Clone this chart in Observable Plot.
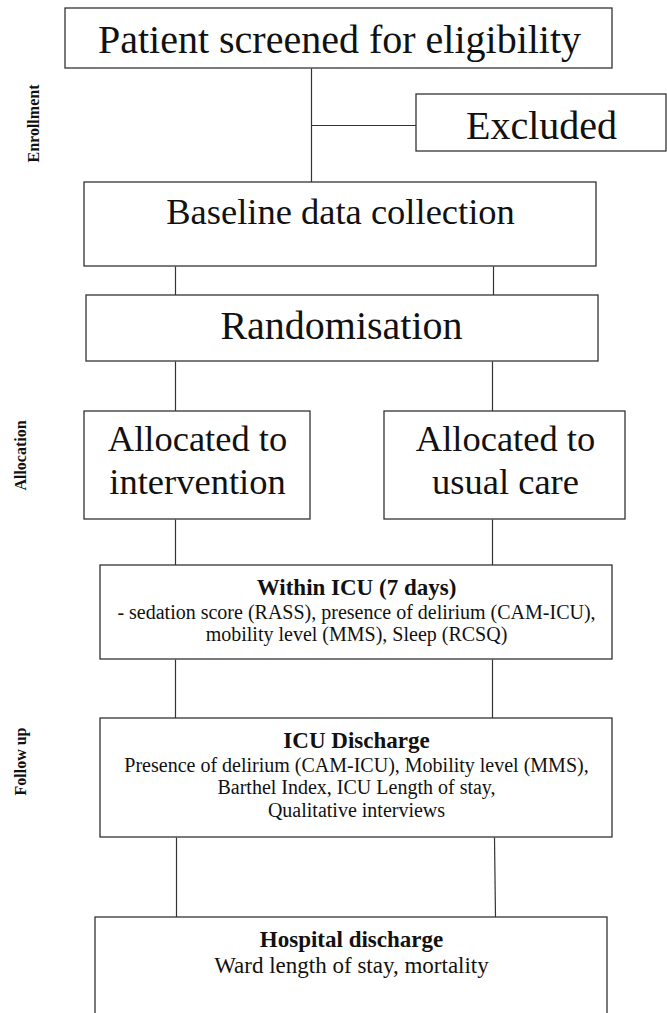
<!DOCTYPE html>
<html>
<head>
<meta charset="utf-8">
<script src="https://cdn.jsdelivr.net/npm/d3@7"></script>
<script src="https://cdn.jsdelivr.net/npm/@observablehq/plot@0.6"></script>
<style>
  html, body { margin: 0; padding: 0; background: #fff; overflow: hidden; }
  #chart svg { display: block; }
</style>
</head>
<body>
<div id="chart"></div>
<script>
// ---- Diagram data (page pixel coordinates, y grows downward) ----
const boxIds = ["screen", "excluded", "baseline", "random", "interv", "usual", "icu", "icuDis", "hosp"];
const boxX1 = [65, 416, 84, 86, 84, 384, 100, 100, 95];
const boxX2 = [612, 666, 596, 598, 310, 625, 612, 612, 607];
const boxY1 = [8, 94, 182, 295, 411, 411, 565, 718, 917];
const boxY2 = [68, 151, 266, 361, 519, 519, 659, 837, 1040];

// connectors: [x1, y1] -> [x2, y2]
const linkX1 = [311, 311, 175, 493, 175, 492, 175, 492, 175, 492, 176, 494];
const linkY1 = [68, 125, 266, 266, 361, 361, 519, 519, 659, 659, 837, 837];
const linkX2 = [311, 416, 175, 493, 175, 492, 175, 492, 175, 492, 176, 495];
const linkY2 = [182, 125, 295, 295, 411, 411, 565, 565, 718, 718, 917, 917];

// text lines (baseline positions)
const lineTexts = [
  "Patient screened for eligibility",
  "Excluded",
  "Baseline data collection",
  "Randomisation",
  "Allocated to", "intervention",
  "Allocated to", "usual care",
  "Within ICU (7 days)",
  "- sedation score (RASS), presence of delirium (CAM-ICU),",
  "mobility level (MMS), Sleep (RCSQ)",
  "ICU Discharge",
  "Presence of delirium (CAM-ICU), Mobility level (MMS),",
  "Barthel Index, ICU Length of stay,",
  "Qualitative interviews",
  "Hospital discharge",
  "Ward length of stay, mortality"
];
const lineX = [339, 541, 340, 341, 197, 197, 505, 505, 356, 356, 356, 356, 356, 356, 356, 351, 351];
const lineY = [52, 138, 223, 338, 450, 493, 450, 493, 594, 618, 640, 747, 771, 793, 816, 946, 972];
const lineRole = ["big", "big", "mid", "big", "mid", "mid", "mid", "mid",
  "title", "body", "body", "title", "body", "body", "body", "title", "body2"];

// phase labels on the left (rotated, read bottom to top)
const phaseTexts = ["Enrollment", "Allocation", "Follow up"];
const phaseX = [38, 25, 25];
const phaseY = [123, 455, 761];

// ---- styles ----
const roleStyle = {
  big:   {size: 40, weight: "normal"},
  mid:   {size: 36.5, weight: "normal"},
  title: {size: 23, weight: "bold"},
  body:  {size: 20, weight: "normal"},
  body2: {size: 23, weight: "normal"}
};
const phaseSpacing = [0.4, 1.8, 1.6];
const serif = "'Liberation Serif', 'Times New Roman', serif";
const ink = "#333";

const boxes = boxIds.map((id, i) => ({id, x1: boxX1[i], x2: boxX2[i], y1: boxY1[i], y2: boxY2[i]}));
const links = linkX1.map((d, i) => ({x1: linkX1[i], y1: linkY1[i], x2: linkX2[i], y2: linkY2[i]}));
const lines = lineTexts.map((t, i) => ({text: t, x: lineX[i], y: lineY[i], role: lineRole[i]}));
const phases = phaseTexts.map((t, i) => ({text: t, x: phaseX[i], y: phaseY[i]}));

const textMarks = Object.entries(roleStyle).map(([role, st]) =>
  Plot.text(lines.filter(d => d.role === role), {
    x: "x", y: "y", text: "text",
    fontSize: st.size, fontWeight: st.weight,
    fontFamily: serif, fill: "#111",
    textAnchor: "middle", lineAnchor: "bottom"
  })
);

const plot = Plot.plot({
  width: 667,
  height: 1013,
  margin: 0,
  style: {background: "#fff", fontFamily: serif},
  x: {domain: [0, 667], range: [0, 667], axis: null},
  y: {domain: [0, 1013], range: [0, 1013], axis: null},
  marks: [
    Plot.link(links, {x1: "x1", y1: "y1", x2: "x2", y2: "y2", stroke: ink, strokeWidth: 1.2}),
    Plot.rect(boxes, {x1: "x1", x2: "x2", y1: "y1", y2: "y2", fill: "#fff", stroke: ink, strokeWidth: 1.3}),
    ...textMarks,
    Plot.text(phases, {
      x: "x", y: "y", text: "text", rotate: -90,
      fontSize: 16, fontWeight: "bold", fontFamily: serif, fill: "#111",
      textAnchor: "middle", lineAnchor: "bottom",
      ariaLabel: "phase"
    })
  ]
});
d3.select(plot).selectAll('g[aria-label="phase"] text')
  .each(function (d, i) { d3.select(this).style("letter-spacing", phaseSpacing[i] + "px"); });
document.getElementById("chart").appendChild(plot);
</script>
</body>
</html>
